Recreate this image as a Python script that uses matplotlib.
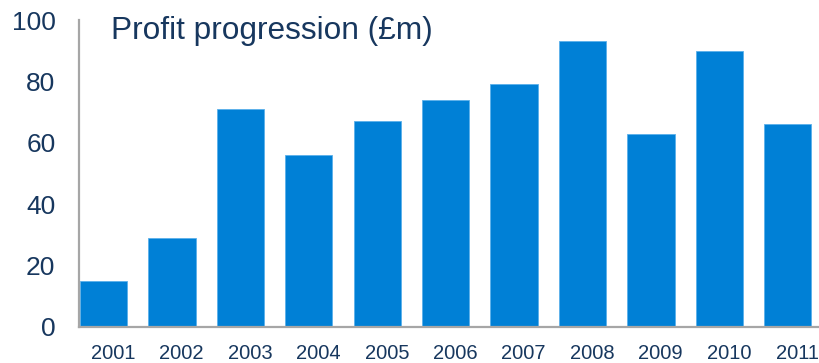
import matplotlib
matplotlib.use("Agg")
import matplotlib.pyplot as plt
import numpy as np

# data
years = ["2001", "2002", "2003", "2004", "2005", "2006",
         "2007", "2008", "2009", "2010", "2011"]
profit = [15, 29, 71, 56, 67, 74, 79, 93, 63, 90, 66]
yticks = [0, 20, 40, 60, 80, 100]

# style
bar_color = "#0080D6"
edge_color = "#5AB0EA"
text_color = "#17375E"
spine_color = "#A6A6A6"
plt.rcParams['font.family'] = ['Liberation Sans', 'DejaVu Sans']

fig = plt.figure(figsize=(8.2, 3.63), dpi=100)
ax = fig.add_axes([79 / 820, 36 / 363, 741 / 820, 307 / 363])

x = np.arange(len(years))
ax.bar(x, profit, width=0.69, color=bar_color, edgecolor=edge_color, linewidth=0.6)

ax.set_xlim(-0.358, 10.47)
ax.set_ylim(0, 100)
ax.set_yticks(yticks)
ax.set_yticklabels([str(v) for v in yticks])
ax.set_xticks(x + 0.14)
ax.set_xticklabels(years)

ax.tick_params(axis='y', length=0, pad=17, labelsize=19, labelcolor=text_color)
ax.tick_params(axis='x', length=0, pad=12, labelsize=14.5, labelcolor=text_color)

for side in ["top", "right"]:
    ax.spines[side].set_visible(False)
for side in ["left", "bottom"]:
    ax.spines[side].set_color(spine_color)
    ax.spines[side].set_linewidth(1.6)

fig.text(111 / 820, 1 - 16 / 363, "Profit progression (£m)", fontsize=22.8,
         color=text_color, ha='left', va='top')

fig.savefig("out.png", dpi=100)
